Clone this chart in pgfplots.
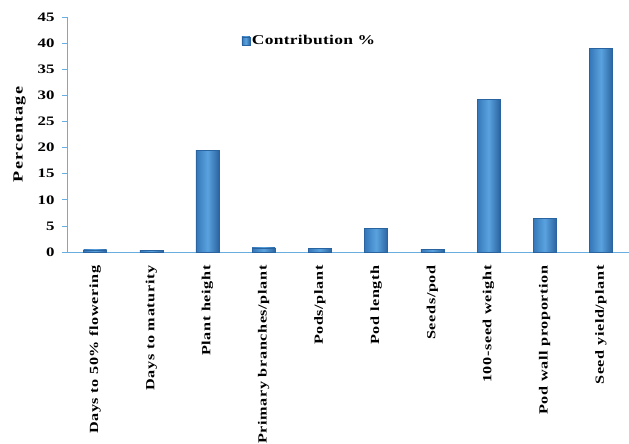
\documentclass[border=0pt]{standalone}
\usepackage{pgfplots}
\pgfplotsset{compat=1.18}
\usepackage{fontspec}
\setmainfont{Liberation Serif}
\newfontfamily\catfont[FakeStretch=1.3, LetterSpace=5]{Liberation Serif}
\newfontfamily\labfont[FakeStretch=1.3, LetterSpace=8]{Liberation Serif}
\newfontfamily\legfont[FakeStretch=1.3, LetterSpace=2]{Liberation Serif}
\newfontfamily\tickfont[FakeStretch=1.3]{Liberation Serif}
\definecolor{axisblue}{HTML}{6AAEE0}
\definecolor{bardark}{HTML}{2A64A0}
\definecolor{baredge}{HTML}{3576B8}
\definecolor{barlight}{HTML}{5AA3DF}
\begin{document}
\begin{tikzpicture}
\useasboundingbox (-67bp,-192bp) rectangle (562bp,252bp);
\begin{axis}[
  at={(0,0)}, anchor=south west,
  scale only axis,
  width=562bp, height=235bp,
  ymin=0, ymax=45, ytick={0,5,...,45},
  xmin=-0.5, xmax=9.5,
  xtick={0,...,9},
  xticklabels={Days to 50\% flowering, Days to maturity, Plant height, Primary branches/plant, Pods/plant, Pod length, Seeds/pod, 100-seed weight, Pod wall proportion, Seed yield/plant},
  x tick label style={rotate=90, anchor=east, xshift=-5bp, font=\catfont\bfseries\fontsize{12.5}{14}\selectfont},
  y tick label style={xshift=-4bp, font=\tickfont\bfseries\fontsize{13}{15}\selectfont},
  /pgf/number format/assume math mode=true,
  axis lines*=left,
  axis line style={axisblue, line width=0.8pt},
  x axis line style={-}, y axis line style={-},
  tick style={axisblue, line width=0.6pt},
  major tick length=5bp,
  xtick style={draw=none},
  tick align=outside,
  ylabel={\labfont\bfseries\fontsize{14}{16}\selectfont Percentage},
  ylabel style={yshift=5bp},
  legend style={at={(0.305,0.94)}, anchor=north west, draw=none, fill=none,
    font=\legfont\bfseries\fontsize{13.5}{15}\selectfont},
  legend image code/.code={\draw[#1] (0bp,-4bp) rectangle (8bp,4bp);},
  barsty/.style={ybar, bar width=23bp, bar shift=0pt, draw=bardark,
    left color=baredge, right color=bardark, middle color=barlight},
]
\addplot[barsty] coordinates {(0,0.4)};
\addplot[barsty, forget plot] coordinates {(1,0.3)};
\addplot[barsty, forget plot] coordinates {(2,19.5)};
\addplot[barsty, forget plot] coordinates {(3,0.8)};
\addplot[barsty, forget plot] coordinates {(4,0.7)};
\addplot[barsty, forget plot] coordinates {(5,4.5)};
\addplot[barsty, forget plot] coordinates {(6,0.5)};
\addplot[barsty, forget plot] coordinates {(7,29.2)};
\addplot[barsty, forget plot] coordinates {(8,6.5)};
\addplot[barsty, forget plot] coordinates {(9,39.0)};
\legend{Contribution \%}
\end{axis}
\end{tikzpicture}
\end{document}
